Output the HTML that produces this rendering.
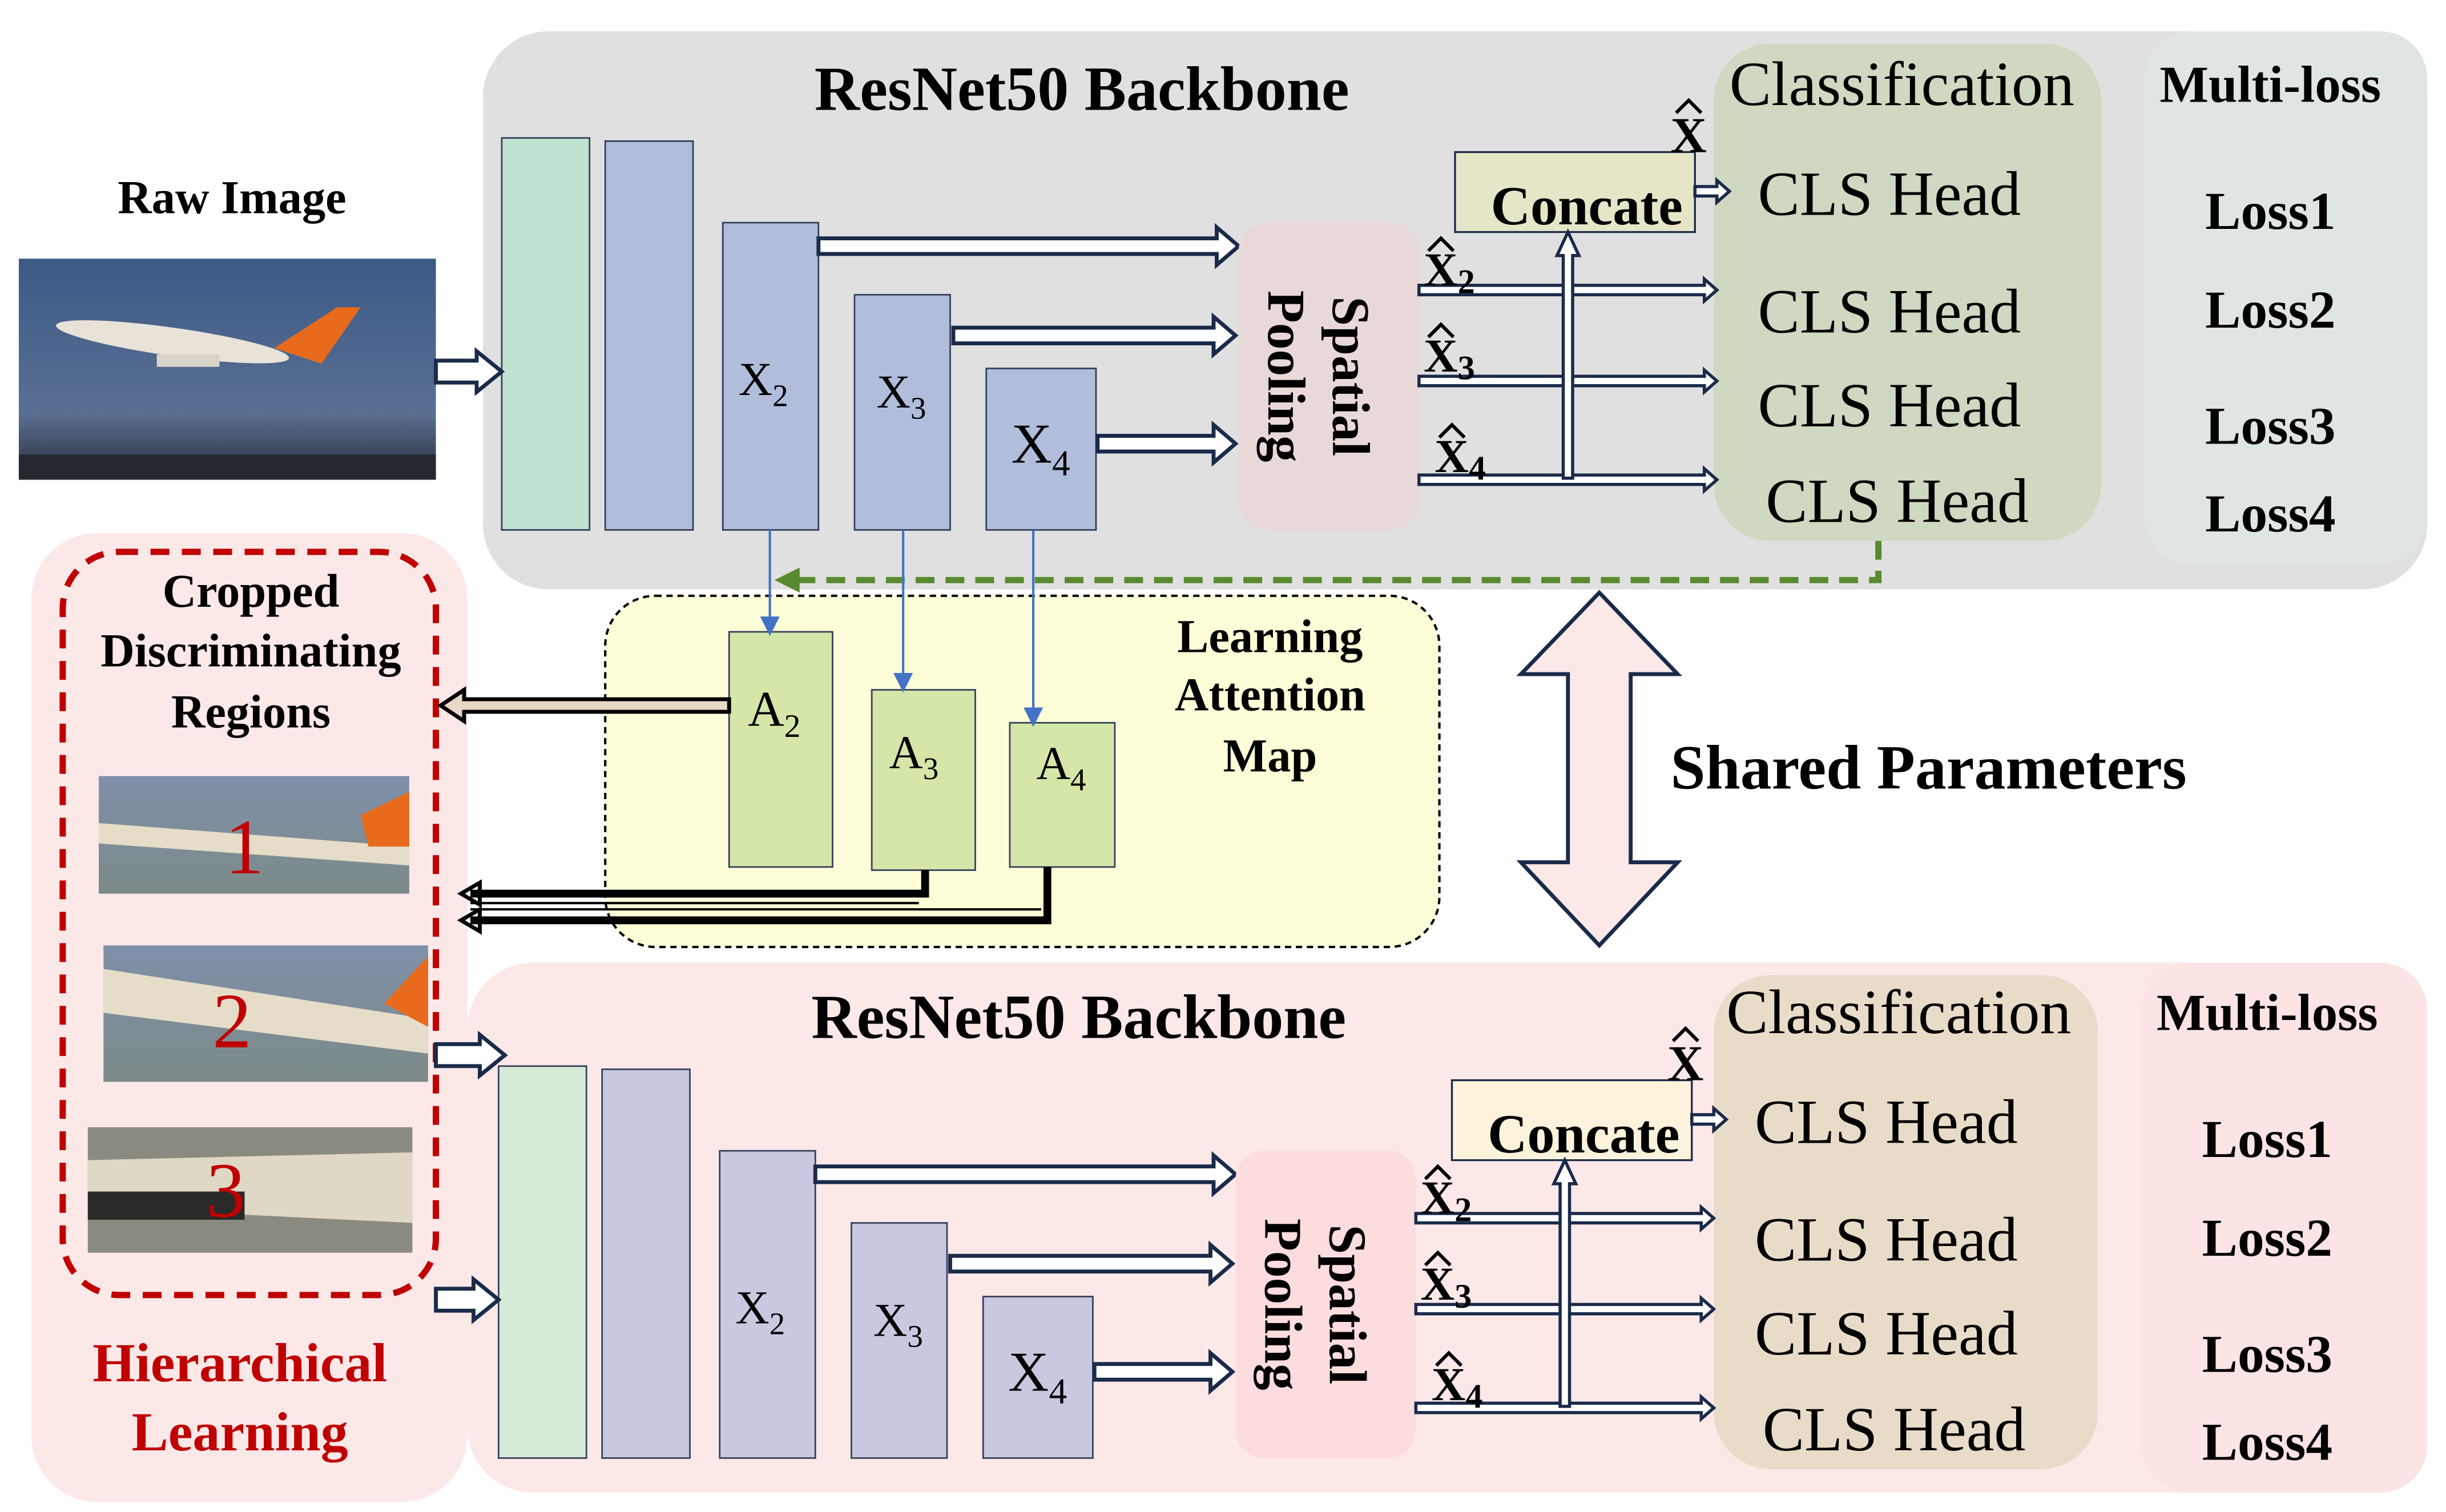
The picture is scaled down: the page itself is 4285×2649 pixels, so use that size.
<!DOCTYPE html>
<html><head><meta charset="utf-8"><style>
html,body{margin:0;padding:0;background:#fff}
svg{display:block}
text{font-family:"Liberation Serif",serif}
.b{font-weight:bold}
</style></head><body>
<svg width="4285" height="2649" viewBox="0 0 1560 964.4" preserveAspectRatio="none" xmlns="http://www.w3.org/2000/svg">
<defs>
<linearGradient id="sky" x1="0" y1="0" x2="0" y2="1"><stop offset="0" stop-color="#3c5a86"/><stop offset="0.7" stop-color="#5a6f92"/><stop offset="1" stop-color="#2a2c36"/></linearGradient>
<linearGradient id="sky2" x1="0" y1="0" x2="0" y2="1"><stop offset="0" stop-color="#7f90aa"/><stop offset="1" stop-color="#7c8a88"/></linearGradient>
<g id="net">
 <rect x="320" y="88" width="56" height="250" fill="var(--c1)" stroke="#33405a" stroke-width="1"/>
 <rect x="386" y="90" width="56" height="248" fill="var(--c2)" stroke="#33405a" stroke-width="1"/>
 <rect x="461" y="142" width="61" height="196" fill="var(--c2)" stroke="#33405a" stroke-width="1"/>
 <rect x="545" y="188" width="61" height="150" fill="var(--c2)" stroke="#33405a" stroke-width="1"/>
 <rect x="629" y="235" width="70" height="103" fill="var(--c2)" stroke="#33405a" stroke-width="1"/>
 <text x="471" y="252" font-size="30">X<tspan font-size="20" dy="7">2</tspan></text>
 <text x="559" y="260" font-size="30">X<tspan font-size="20" dy="7">3</tspan></text>
 <text x="645" y="295" font-size="36">X<tspan font-size="23" dy="8">4</tspan></text>
 <g fill="#fff" stroke="#1a2a4a" stroke-width="2.5">
  <polygon points="522,152 776,152 776,145 790,157 776,169 776,162 522,162"/>
  <polygon points="608,209 774,209 774,202 788,214 774,226 774,219 608,219"/>
  <polygon points="700,278 774,278 774,271 788,283 774,295 774,288 700,288"/>
 </g>
 <rect x="790" y="142" width="115" height="196" rx="18" fill="var(--c3)"/>
 <g transform="translate(845,240) rotate(90)" text-anchor="middle">
  <text x="0" y="-5" font-size="34" class="b">Spatial</text>
  <text x="0" y="36" font-size="34" class="b">Pooling</text>
 </g>
 <rect x="928" y="97" width="153" height="51" fill="var(--c4)" stroke="#1a2a4a" stroke-width="1.2"/>
 <text x="1012" y="143" font-size="35" class="b" text-anchor="middle">Concate</text>
 <text x="1077" y="97" font-size="32" class="b" text-anchor="middle">X</text>
 <path d="M1069,72 L1077,64 L1085,72" fill="none" stroke="#000" stroke-width="2.2"/>
 <g fill="#fff" stroke="#1a2a4a" stroke-width="2">
  <polygon points="905,182 1087,182 1087,178 1095,185 1087,192 1087,188 905,188"/>
  <polygon points="905,240 1087,240 1087,236 1095,243 1087,250 1087,246 905,246"/>
  <polygon points="905,303 1087,303 1087,299 1095,306 1087,313 1087,309 905,309"/>
  <polygon points="1081,119 1095,119 1095,115 1103,122 1095,129 1095,125 1081,125"/>
  <polygon points="997,305 997,163 993,163 1000,148 1007,163 1003,163 1003,305"/>
 </g>
 <g class="b">
  <text x="908" y="182" font-size="30" class="b">X<tspan font-size="22" dy="5">2</tspan></text>
  <path d="M911,160 L919,152 L927,160" fill="none" stroke="#000" stroke-width="2.2"/>
  <text x="908" y="237" font-size="30" class="b">X<tspan font-size="22" dy="5">3</tspan></text>
  <path d="M911,215 L919,207 L927,215" fill="none" stroke="#000" stroke-width="2.2"/>
  <text x="915" y="301" font-size="30" class="b">X<tspan font-size="22" dy="5">4</tspan></text>
  <path d="M918,279 L926,271 L934,279" fill="none" stroke="#000" stroke-width="2.2"/>
 </g>
 <g font-size="40" text-anchor="middle">
  <text x="1213" y="67">Classification</text>
  <text x="1205" y="137">CLS Head</text>
  <text x="1205" y="212">CLS Head</text>
  <text x="1205" y="272">CLS Head</text>
  <text x="1210" y="333">CLS Head</text>
 </g>
 <g text-anchor="middle">
  <text x="1448" y="65" font-size="33" class="b">Multi-loss</text>
  <text x="1448" y="146" font-size="34" class="b">Loss1</text>
  <text x="1448" y="209" font-size="34" class="b">Loss2</text>
  <text x="1448" y="283" font-size="34" class="b">Loss3</text>
  <text x="1448" y="339" font-size="34" class="b">Loss4</text>
 </g>
 <text x="690" y="70" font-size="40" class="b" text-anchor="middle">ResNet50 Backbone</text>
</g>
</defs>

<rect x="308" y="20" width="1240" height="356" rx="42" fill="#e0e0e0"/>
<rect x="1368" y="20" width="180" height="340" rx="30" fill="#dfe5e3"/>
<rect x="1093" y="28" width="247" height="317" rx="36" fill="#cfd8c0"/>
<rect x="298" y="614" width="1250" height="338" rx="42" fill="#fde8e8"/>
<rect x="1366" y="614" width="182" height="338" rx="30" fill="#fce4e4"/>
<rect x="1093" y="622" width="245" height="315" rx="36" fill="#e8dcc8"/>

<use href="#net" style="--c1:#c0e2d0;--c2:#b0bedb;--c3:#e8d8d8;--c4:#e5e6c8"/>
<use href="#net" transform="translate(-2,592)" style="--c1:#d6ead8;--c2:#c8c8e0;--c3:#fcdcdc;--c4:#fdf3dc"/>

<text x="148" y="136" font-size="30" class="b" text-anchor="middle">Raw Image</text>
<rect x="12" y="165" width="266" height="141" fill="url(#sky)"/>
<ellipse cx="110" cy="218" rx="75" ry="9" fill="#e8e2d8" transform="rotate(8 110 218)"/>
<polygon points="175,222 215,196 230,196 205,232" fill="#e86a1c"/>
<rect x="100" y="226" width="40" height="8" fill="#d8d4c8"/>
<rect x="12" y="290" width="266" height="16" fill="#262830"/>
<polygon points="278,230 304,230 304,224 320,237 304,250 304,244 278,244" fill="#fff" stroke="#1a2a4a" stroke-width="2.5"/>

<polyline points="1198,345 1198,370 508,370" fill="none" stroke="#5a8a30" stroke-width="4" stroke-dasharray="12,7"/>
<polygon points="510,362 494,370 510,378" fill="#5a8a30"/>

<rect x="20" y="340" width="278" height="618" rx="42" fill="#fde8e8"/>
<rect x="40" y="352" width="238" height="474" rx="36" fill="none" stroke="#c00000" stroke-width="4" stroke-dasharray="12,8"/>
<g text-anchor="middle">
 <text x="160" y="387" font-size="30" class="b">Cropped</text>
 <text x="160" y="425" font-size="30" class="b">Discriminating</text>
 <text x="160" y="464" font-size="30" class="b">Regions</text>
</g>
<rect x="63" y="495" width="198" height="75" fill="url(#sky2)"/>
<polygon points="63,525 261,540 261,552 63,538" fill="#e6ddc8"/>
<polygon points="230,520 261,505 261,540 235,540" fill="#e86a1c"/>
<rect x="66" y="603" width="207" height="87" fill="url(#sky2)"/>
<polygon points="66,618 273,650 273,672 66,646" fill="#e6ddc8"/>
<polygon points="245,640 273,610 273,655" fill="#e86a1c"/>
<rect x="56" y="719" width="207" height="80" fill="#8a8a80"/>
<polygon points="56,740 263,735 263,780 56,770" fill="#ded8c4"/>
<rect x="56" y="760" width="100" height="18" fill="#2a2a28"/>
<g font-size="50" fill="#c00000" text-anchor="middle">
 <text x="156" y="557" font-family="Liberation Sans,sans-serif">1</text>
 <text x="148" y="668" font-family="Liberation Sans,sans-serif">2</text>
 <text x="144" y="776" font-family="Liberation Sans,sans-serif">3</text>
</g>
<g fill="#c00000" text-anchor="middle">
 <text x="153" y="881" font-size="35" class="b">Hierarchical</text>
 <text x="153" y="925" font-size="35" class="b">Learning</text>
</g>
<g fill="#fff" stroke="#1a2a4a" stroke-width="2.5">
 <polygon points="278,666 306,666 306,660 322,673 306,686 306,680 278,680"/>
 <polygon points="278,822 302,822 302,816 318,829 302,842 302,836 278,836"/>
</g>

<rect x="386" y="380" width="532" height="224" rx="32" fill="#fdfdd8" stroke="#000" stroke-width="1.5" stroke-dasharray="4,3"/>
<rect x="465" y="403" width="66" height="150" fill="#d4e6a8" stroke="#33405a" stroke-width="1"/>
<rect x="556" y="440" width="66" height="115" fill="#d4e6a8" stroke="#33405a" stroke-width="1"/>
<rect x="644" y="461" width="67" height="92" fill="#d4e6a8" stroke="#33405a" stroke-width="1"/>
<text x="477" y="463" font-size="32">A<tspan font-size="21" dy="7">2</tspan></text>
<text x="567" y="490" font-size="30">A<tspan font-size="20" dy="7">3</tspan></text>
<text x="661" y="497" font-size="30">A<tspan font-size="20" dy="7">4</tspan></text>
<g text-anchor="middle">
 <text x="810" y="416" font-size="30" class="b">Learning</text>
 <text x="810" y="453" font-size="30" class="b">Attention</text>
 <text x="810" y="492" font-size="30" class="b">Map</text>
</g>
<g stroke="#4472c4" stroke-width="1.5" fill="#4472c4">
 <line x1="491" y1="338" x2="491" y2="396"/><polygon points="486,394 491,404 496,394"/>
 <line x1="576" y1="338" x2="576" y2="432"/><polygon points="571,430 576,440 581,430"/>
 <line x1="659" y1="338" x2="659" y2="454"/><polygon points="654,452 659,462 664,452"/>
</g>
<polygon points="465,446 296,446 296,440 281,450 296,460 296,454 465,454" fill="#e8d8c8" stroke="#000" stroke-width="2.5"/>
<polyline points="590,555 590,570 300,570" fill="none" stroke="#000" stroke-width="5"/>
<polygon points="306,563 294,570 306,577" fill="none" stroke="#000" stroke-width="2.5"/>
<polyline points="668,553 668,587 300,587" fill="none" stroke="#000" stroke-width="5"/>
<polygon points="306,580 294,587 306,594" fill="none" stroke="#000" stroke-width="2.5"/>
<line x1="300" y1="576" x2="586" y2="576" stroke="#000" stroke-width="1.5"/>
<line x1="300" y1="580" x2="664" y2="580" stroke="#000" stroke-width="1.5"/>

<polygon points="1020,378 1070,430 1040,430 1040,550 1070,550 1020,603 970,550 1000,550 1000,430 970,430" fill="#fde8e8" stroke="#1a2a4a" stroke-width="2.5"/>
<text x="1230" y="503" font-size="40" class="b" text-anchor="middle">Shared Parameters</text>
</svg>
</body></html>
